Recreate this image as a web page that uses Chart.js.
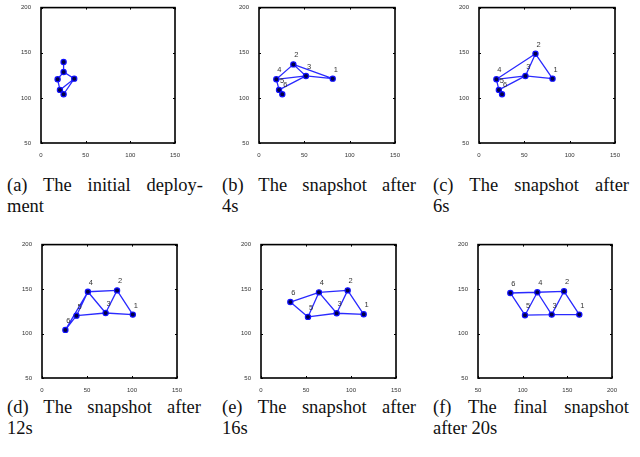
<!DOCTYPE html>
<html>
<head>
<meta charset="utf-8">
<script src="https://cdn.jsdelivr.net/npm/chart.js@4.4.1/dist/chart.umd.min.js"></script>
<style>
  body { margin: 0; background: #fff; width: 640px; height: 457px; position: relative; overflow: hidden; }
  canvas { position: absolute; }
  .cap { position: absolute; font-family: "Liberation Serif", "Times New Roman", serif; font-size: 18.5px; color: #111; line-height: 21px; width: 200px; }
  .cap .l1 { text-align: justify; text-align-last: justify; white-space: nowrap; }
</style>
</head>
<body>
<canvas id="pa"></canvas>
<canvas id="pb"></canvas>
<canvas id="pc"></canvas>
<canvas id="pd"></canvas>
<canvas id="pe"></canvas>
<canvas id="pf"></canvas>
<div class="cap" style="left:7px;top:175px;width:196px"><div class="l1">(a) The initial deploy-</div><div>ment</div></div>
<div class="cap" style="left:222px;top:175px;width:194px"><div class="l1">(b) The snapshot after</div><div>4s</div></div>
<div class="cap" style="left:433px;top:175px;width:196px"><div class="l1">(c) The snapshot after</div><div>6s</div></div>
<div class="cap" style="left:7px;top:397px;width:194px"><div class="l1">(d) The snapshot after</div><div>12s</div></div>
<div class="cap" style="left:222px;top:397px;width:194px"><div class="l1">(e) The snapshot after</div><div>16s</div></div>
<div class="cap" style="left:433px;top:397px;width:196px"><div class="l1">(f) The final snapshot</div><div>after 20s</div></div>
<script>
const nodeLabels = ["1", "2", "3", "4", "5", "6"];

// (a) initial deployment
const xInit = [37.2, 25.3, 25.3, 18.6, 21.2, 25.3];
const yInit = [121.3, 139.7, 128.7, 120.6, 108.8, 104.0];
const edgesInit = [[2, 3], [3, 4], [3, 1], [4, 5], [5, 1], [6, 1], [5, 6]];

// (b) after 4s
const x4s = [81.3, 37.9, 51.8, 19.1, 22.1, 25.7];
const y4s = [121.3, 137.1, 124.3, 120.6, 108.8, 104.0];
// (c) after 6s
const x6s = [81.1, 62.3, 51.2, 19.2, 21.9, 25.4];
const y6s = [121.3, 148.8, 124.3, 120.6, 108.8, 104.0];
const edgesEarly = [[4, 2], [2, 3], [2, 1], [3, 1], [4, 3], [4, 5], [5, 6], [5, 3]];

// (d) after 12s
const x12s = [100.9, 83.4, 70.7, 51.0, 38.3, 26.0];
const y12s = [121.3, 148.5, 123.1, 147.0, 120.1, 104.1];
// (e) after 16s
const x16s = [114.1, 96.3, 84.1, 64.4, 52.2, 32.6];
const y16s = [121.6, 148.5, 122.8, 146.3, 118.7, 135.4];
// (f) after 20s
const x20s = [163.4, 146.3, 132.5, 116.4, 102.6, 86.2];
const y20s = [121.3, 147.5, 121.3, 146.4, 120.6, 145.6];
const edgesLate = [[6, 5], [6, 4], [5, 4], [4, 2], [4, 3], [2, 3], [2, 1], [5, 3], [3, 1]];

const xRangeA = [0, 150];
const xRangeF = [50, 200];
const yRange = [50, 200];
const tickStep = 50;

// box around the plot + little inward ticks (matlab look)
const boxPlugin = {
  id: "box",
  afterDraw(chart) {
    const ctx = chart.ctx;
    const a = chart.chartArea;
    const sx = chart.scales.x, sy = chart.scales.y;
    ctx.save();
    ctx.strokeStyle = "#000";
    ctx.lineWidth = 1;
    ctx.beginPath();
    sx.ticks.forEach(t => {
      const px = Math.round(sx.getPixelForValue(t.value)) + 0.5;
      ctx.moveTo(px, a.bottom); ctx.lineTo(px, a.bottom - 2);
      ctx.moveTo(px, a.top); ctx.lineTo(px, a.top + 2);
    });
    sy.ticks.forEach(t => {
      const py = Math.round(sy.getPixelForValue(t.value)) + 0.5;
      ctx.moveTo(a.left, py); ctx.lineTo(a.left + 2, py);
      ctx.moveTo(a.right, py); ctx.lineTo(a.right - 2, py);
    });
    ctx.stroke();
    ctx.lineWidth = 1.6;
    ctx.strokeRect(a.left, a.top, a.right - a.left, a.bottom - a.top);
    ctx.restore();
  }
};

// node numbers next to each point
const labelPlugin = {
  id: "nodeNums",
  afterDatasetsDraw(chart, args, opts) {
    if (!opts.show) return;
    const ctx = chart.ctx;
    const sx = chart.scales.x, sy = chart.scales.y;
    ctx.save();
    ctx.font = "7.5px 'Liberation Sans', Arial, sans-serif";
    ctx.fillStyle = "#333";
    ctx.textAlign = "center";
    ctx.textBaseline = "middle";
    chart.data.datasets[0].data.forEach((p, i) => {
      ctx.fillText(nodeLabels[i], sx.getPixelForValue(p.x) + 3, sy.getPixelForValue(p.y) - 9);
    });
    ctx.restore();
  }
};

function makePanel(id, L, T, R, B, xs, ys, edges, xRange, showNums) {
  const cv = document.getElementById(id);
  const padL = 22, padT = 5, padR = 8, padB = 14;
  cv.width = (R - L) + padL + padR;
  cv.height = (B - T) + padT + padB;
  cv.style.left = (L - padL) + "px";
  cv.style.top = (T - padT) + "px";

  const pts = xs.map((x, i) => ({ x: x, y: ys[i] }));
  const segs = [];
  edges.forEach(e => {
    segs.push(pts[e[0] - 1], pts[e[1] - 1], { x: NaN, y: NaN });
  });

  new Chart(cv, {
    type: "scatter",
    data: {
      datasets: [
        {
          data: pts,
          pointRadius: 2.6,
          pointBackgroundColor: "#000048",
          pointBorderColor: "#1010ff",
          pointBorderWidth: 1.2,
          showLine: false
        },
        {
          data: segs,
          showLine: true,
          spanGaps: false,
          pointRadius: 0,
          borderColor: "#2a2aff",
          borderWidth: 1.3
        }
      ]
    },
    options: {
      responsive: false,
      animation: false,
      devicePixelRatio: 1,
      layout: { padding: { left: 0, top: padT, right: padR, bottom: 0 } },
      plugins: {
        legend: { display: false },
        tooltip: { enabled: false },
        nodeNums: { show: showNums }
      },
      scales: {
        x: {
          type: "linear",
          min: xRange[0], max: xRange[1],
          grid: { display: false },
          border: { display: false },
          ticks: { stepSize: tickStep, padding: 1, maxRotation: 0, color: "#333", font: { size: 6, family: "'Liberation Sans', Arial, sans-serif" } },
          afterFit(s) { s.height = padB; }
        },
        y: {
          type: "linear",
          min: yRange[0], max: yRange[1],
          grid: { display: false },
          border: { display: false },
          ticks: { stepSize: tickStep, padding: 2, color: "#333", font: { size: 6, family: "'Liberation Sans', Arial, sans-serif" } },
          afterFit(s) { s.width = padL; }
        }
      }
    },
    plugins: [boxPlugin, labelPlugin]
  });
}

makePanel("pa", 41, 7, 175, 143, xInit, yInit, edgesInit, xRangeA, false);
makePanel("pb", 259, 7, 395, 143, x4s, y4s, edgesEarly, xRangeA, true);
makePanel("pc", 479, 7, 615, 143, x6s, y6s, edgesEarly, xRangeA, true);
makePanel("pd", 42, 244, 177, 378, x12s, y12s, edgesLate, xRangeA, true);
makePanel("pe", 261, 244, 396, 378, x16s, y16s, edgesLate, xRangeA, true);
makePanel("pf", 478, 244, 612, 378, x20s, y20s, edgesLate, xRangeF, true);
</script>
</body>
</html>
